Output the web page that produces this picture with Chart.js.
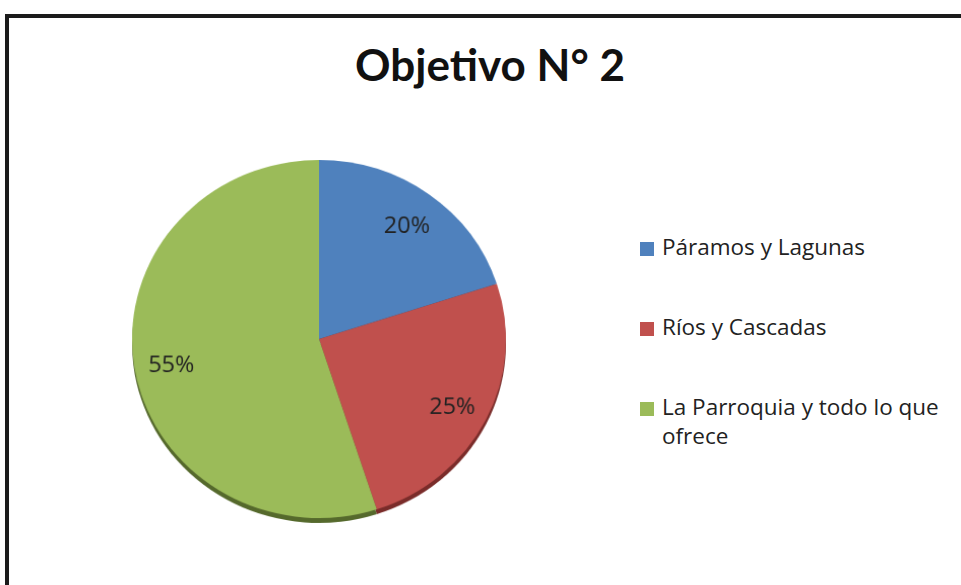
<!DOCTYPE html>
<html lang="es">
<head>
    <meta charset="UTF-8">
    <title>Objetivo N° 2</title>
    <style>
        body { margin: 0; background: #fff; width: 961px; height: 585px; overflow: hidden; position: relative; font-family: "Open Sans", sans-serif; }
        .marco { position: absolute; left: 5px; top: 14px; width: 1000px; height: 620px; border-left: 4px solid #1b1b1b; border-top: 4px solid #1b1b1b; }
        .titulo { position: absolute; left: 0; width: 980px; top: 38px; margin: 0; text-align: center; font-family: Lato, sans-serif; font-weight: bold; font-size: 44px; color: #111; }
        #grafico { position: absolute; left: 119px; top: 139px; transform: scale(1.016, 0.973); }
        .leyenda { position: absolute; left: 640px; top: 232px; list-style: none; margin: 0; padding: 0; }
        .leyenda li { position: relative; padding-left: 22px; width: 300px; font-size: 22.5px; line-height: 29px; color: #222; margin-bottom: 51px; }
        .leyenda span { position: absolute; left: 0; top: 10px; width: 14px; height: 14px; }
    </style>
</head>
<body>
    <div class="marco"></div>
    <h1 class="titulo">Objetivo N° 2</h1>
    <canvas id="grafico" width="400" height="400"></canvas>
    <ul class="leyenda" id="leyenda"></ul>

    <script src="https://cdn.jsdelivr.net/npm/chart.js"></script>
    <script>
        // Datos del gráfico
        const categorias = ["Páramos y Lagunas", "Ríos y Cascadas", "La Parroquia y todo lo que ofrece"];
        const porcentajes = [20, 25, 55];
        const colores = ["#4f81bd", "#c0504d", "#9bbb59"];
        const sombras = ["#2d4b70", "#7a2c2a", "#55692c"];

        // Sombra debajo del pastel
        const sombraPlugin = {
            id: "sombra",
            beforeDatasetsDraw(chart) {
                const ctx = chart.ctx;
                chart.getDatasetMeta(0).data.forEach((arc, i) => {
                    ctx.save();
                    ctx.fillStyle = sombras[i];
                    ctx.beginPath();
                    ctx.moveTo(arc.x, arc.y + 5);
                    ctx.arc(arc.x, arc.y + 5, arc.outerRadius, arc.startAngle, arc.endAngle);
                    ctx.closePath();
                    ctx.fill();
                    ctx.restore();
                });
            }
        };

        // Etiquetas de porcentaje
        const etiquetasPlugin = {
            id: "etiquetas",
            afterDatasetsDraw(chart) {
                const ctx = chart.ctx;
                ctx.save();
                ctx.font = '23px "Open Sans"';
                ctx.fillStyle = "#222";
                ctx.textAlign = "center";
                ctx.textBaseline = "middle";
                chart.getDatasetMeta(0).data.forEach((arc, i) => {
                    const a = (arc.startAngle + arc.endAngle) / 2;
                    const r = arc.outerRadius * 0.8;
                    ctx.fillText(porcentajes[i] + "%", arc.x + Math.cos(a) * r, arc.y + Math.sin(a) * r + 4);
                });
                ctx.restore();
            }
        };

        new Chart(document.getElementById("grafico"), {
            type: "pie",
            data: {
                labels: categorias,
                datasets: [{
                    data: porcentajes,
                    backgroundColor: colores,
                    borderWidth: 0
                }]
            },
            options: {
                responsive: false,
                animation: false,
                layout: { padding: 16 },
                plugins: {
                    legend: { display: false },
                    tooltip: { enabled: false }
                }
            },
            plugins: [sombraPlugin, etiquetasPlugin]
        });

        // Leyenda
        const leyenda = document.getElementById("leyenda");
        categorias.forEach((c, i) => {
            const li = document.createElement("li");
            const caja = document.createElement("span");
            caja.style.background = colores[i];
            li.appendChild(caja);
            li.appendChild(document.createTextNode(c));
            leyenda.appendChild(li);
        });
    </script>
</body>
</html>
